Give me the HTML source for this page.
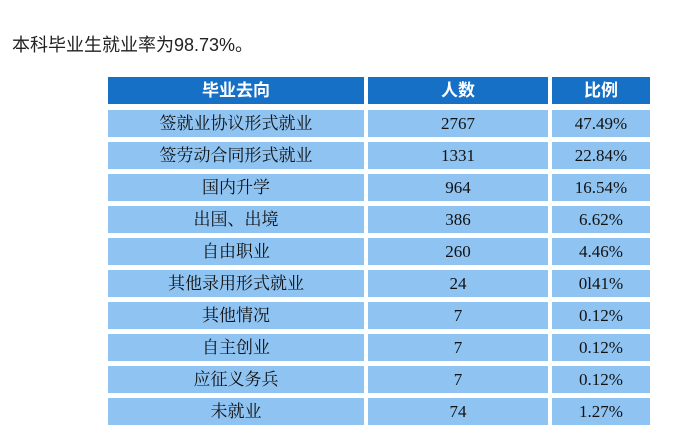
<html><head><style>
body{margin:0;width:676px;height:430px;background:#fff;position:relative;overflow:hidden;font-family:"Liberation Serif","Noto Serif CJK SC",serif}
.t{position:absolute;left:12px;top:31px;font:18px "Liberation Sans","Noto Sans CJK SC",sans-serif;color:#222}
.c{position:absolute;height:27px;line-height:27px;text-align:center;font-size:17px;color:#111;background:#8fc3f1}
.h{background:#1570c6;color:#fff;font-weight:bold;font-family:"Liberation Sans","Noto Sans CJK SC",sans-serif;top:77px}
</style></head><body>
<div class="t">本科毕业生就业率为98.73%。</div>
<div class="c h" style="left:108px;width:256px">毕业去向</div>
<div class="c h" style="left:368px;width:180px">人数</div>
<div class="c h" style="left:552px;width:98px">比例</div>
<div id="r"></div>
<script>
var d=[["签就业协议形式就业","2767","47.49%"],["签劳动合同形式就业","1331","22.84%"],["国内升学","964","16.54%"],["出国、出境","386","6.62%"],["自由职业","260","4.46%"],["其他录用形式就业","24","0l41%"],["其他情况","7","0.12%"],["自主创业","7","0.12%"],["应征义务兵","7","0.12%"],["未就业","74","1.27%"]];
var h="";d.forEach(function(r,i){var y=110+i*32;
h+='<div class="c" style="left:108px;width:256px;top:'+y+'px">'+r[0]+'</div><div class="c" style="left:368px;width:180px;top:'+y+'px">'+r[1]+'</div><div class="c" style="left:552px;width:98px;top:'+y+'px">'+r[2]+'</div>';});
document.getElementById("r").innerHTML=h;
</script>
</body></html>
